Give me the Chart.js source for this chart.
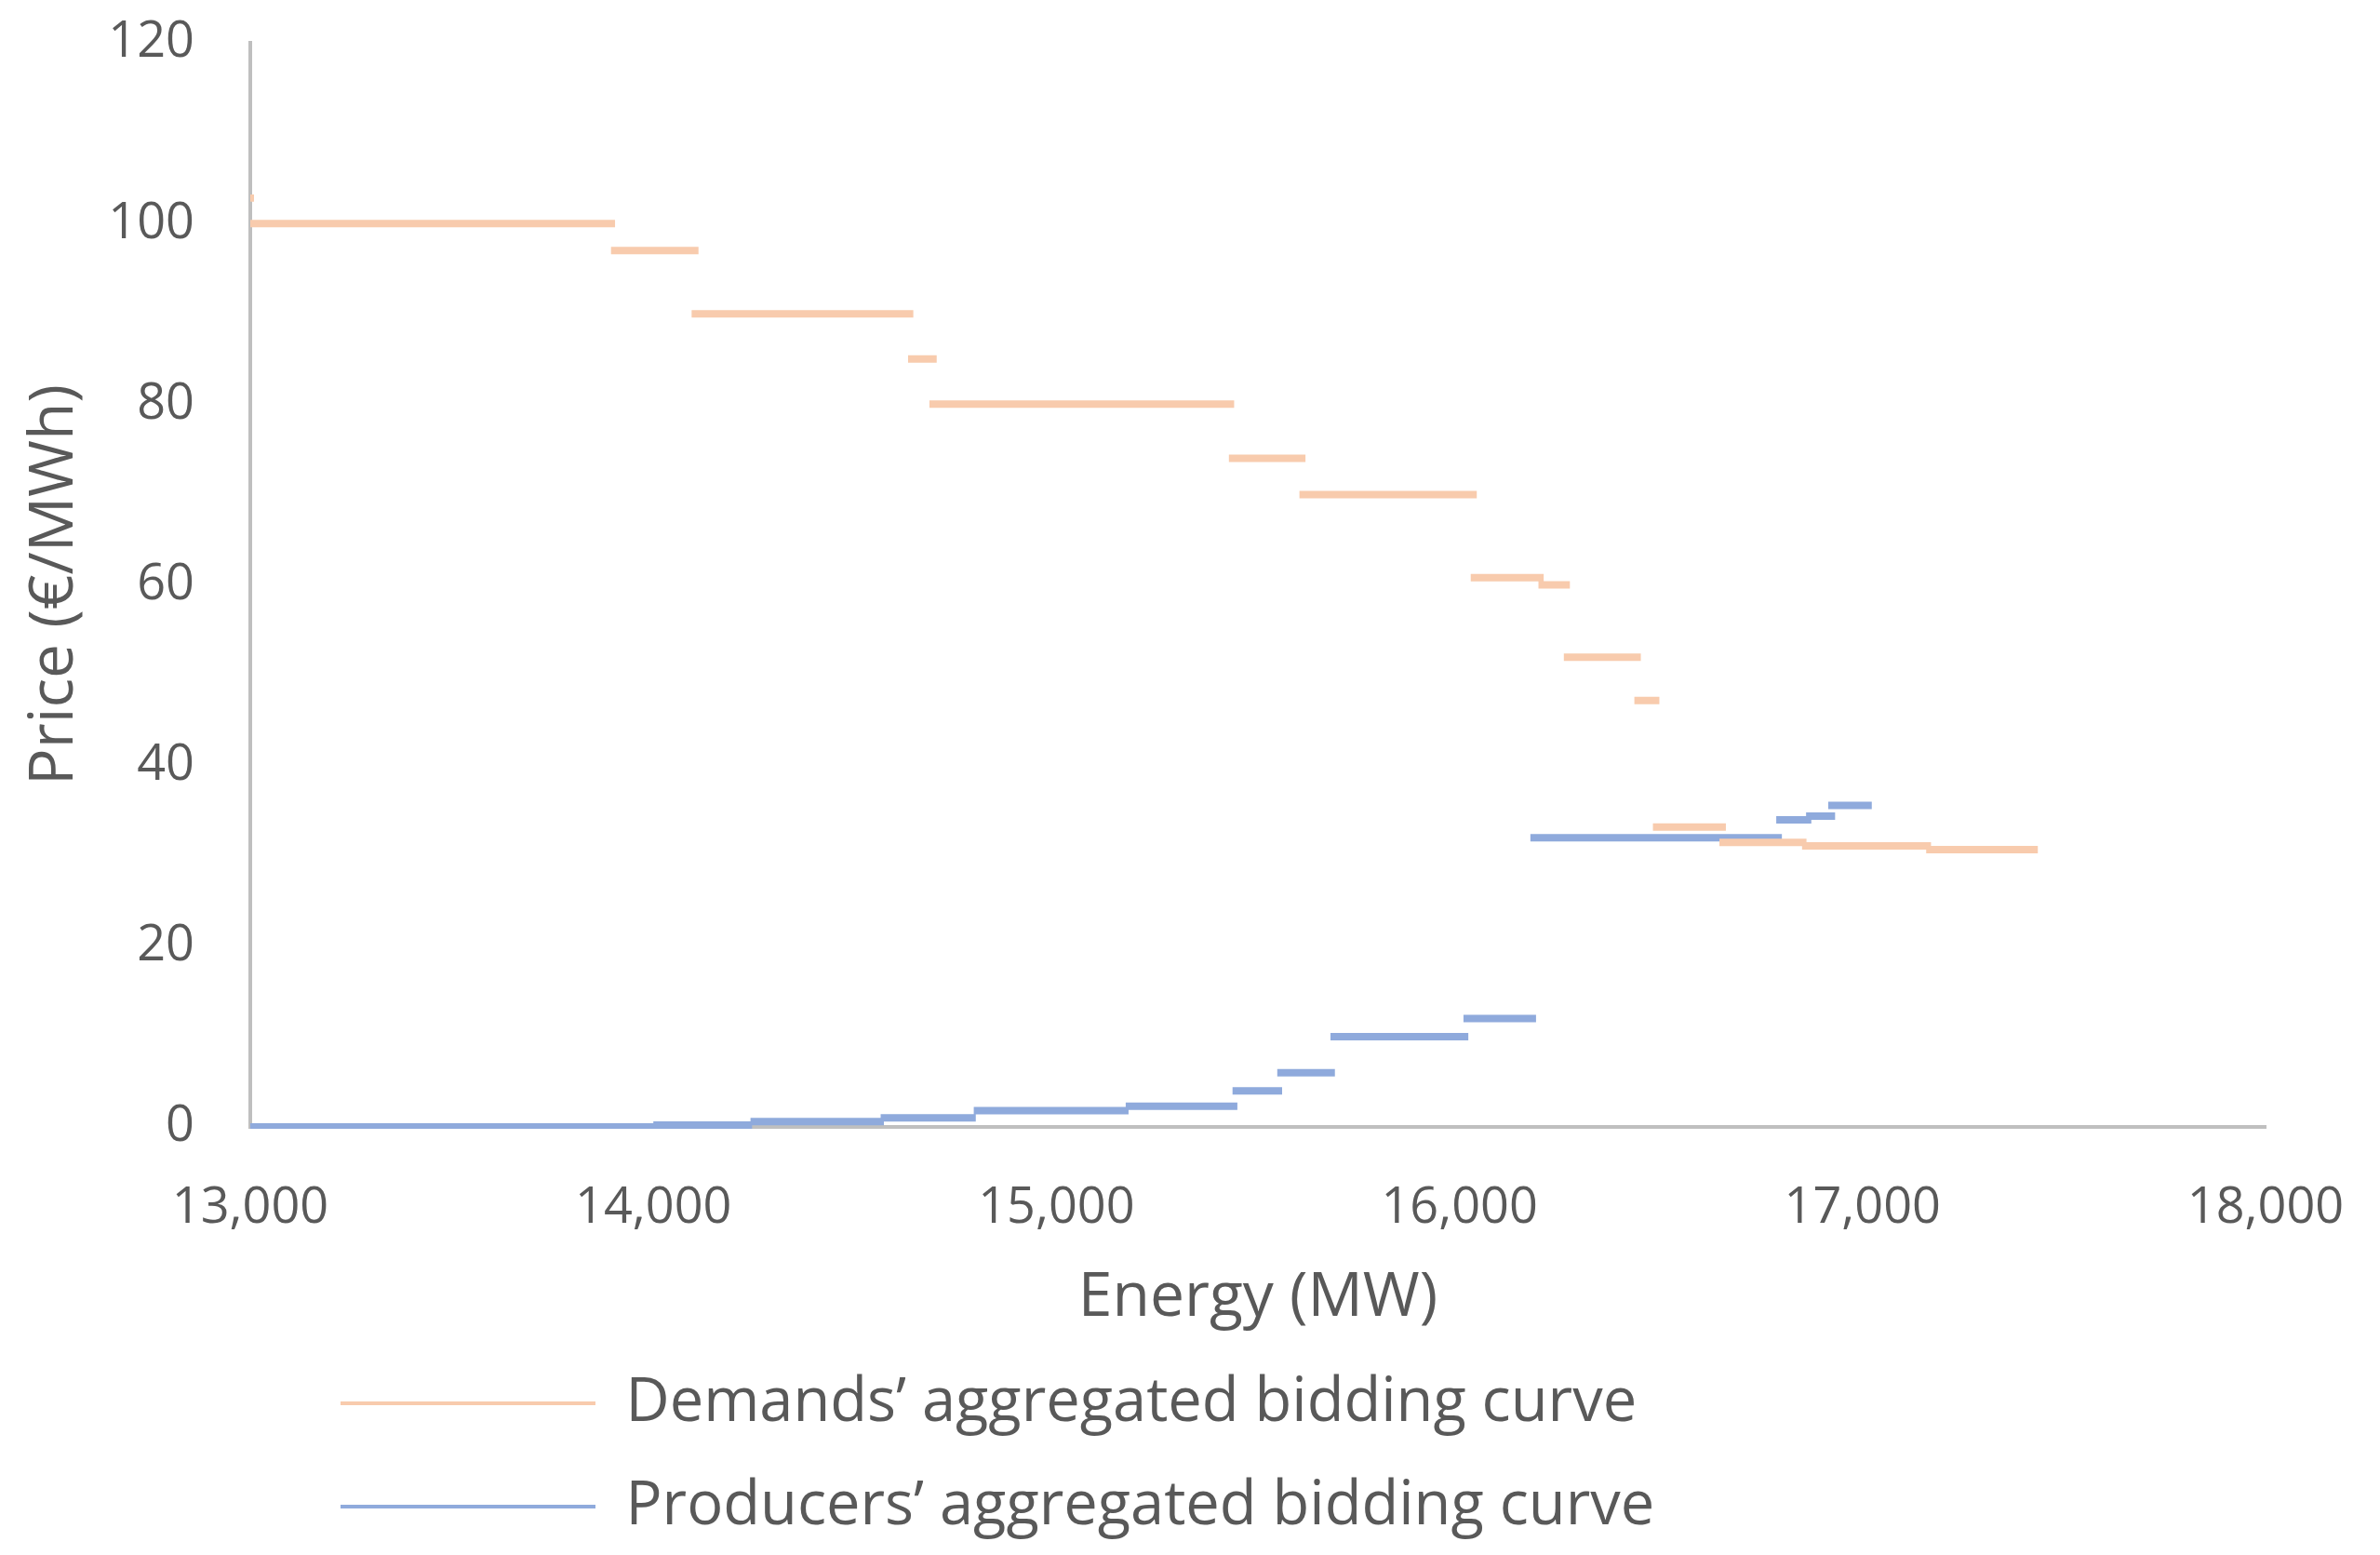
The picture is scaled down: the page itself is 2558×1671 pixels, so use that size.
<!DOCTYPE html>
<html>
<head>
<meta charset="utf-8">
<script src="https://cdn.jsdelivr.net/npm/chart.js@4/dist/chart.umd.min.js"></script>
<style>
  html, body { margin: 0; padding: 0; background: #ffffff; }
  canvas { display: block; }
</style>
</head>
<body>
<canvas id="chart" width="2558" height="1671" style="width:2558px;height:1671px"></canvas>
<script>
// ---- Data ----
const seriesNames = ["Demands\u2019 aggregated bidding curve", "Producers\u2019 aggregated bidding curve"];

// Demand steps: start energy (MW), end energy (MW), price (€/MWh)
const demandStart = [13000, 13895, 14095, 14632, 14685, 15428, 15603, 16028, 16196, 16259, 16434, 16480, 16645, 16850, 17158];
const demandEnd   = [13905, 14112, 14645, 14703, 15441, 15618, 16043, 16209, 16274, 16450, 16496, 16661, 16861, 17170, 17435];
const demandPrice = [100,   97,    90,    85,    80,    74,    70,    60.8,  60,    52,    47.2,  33.2,  31.5,  31.1,  30.7];
// small vertical piece of the demand curve at the left edge
const demandVertX    = [13000];
const demandVertHigh = [103.2];
const demandVertLow  = [102.4];

// Producer steps
const producerStart = [13000, 14000, 14241, 14564, 14795, 15172, 15437, 15548, 15680, 16010, 16176, 16786, 16860, 16915];
const producerEnd   = [14006, 14245, 14572, 14800, 15179, 15449, 15560, 15691, 16022, 16190, 16800, 16873, 16932, 17023];
const producerPrice = [0,     0.2,   0.6,   1.0,   1.8,   2.3,   4,     6,     10,    12,    32,    34,    34.4,  35.6];

// Axes
const xMin = 13000, xMax = 18000, xStep = 1000;
const yMin = 0, yMax = 120, yStep = 20;
const xTitle = "Energy (MW)";
const yTitle = "Price (\u20AC/MWh)";

// ---- Build step series ----
function buildSteps(starts, ends, prices) {
  const pts = [];
  for (let i = 0; i < starts.length; i++) {
    pts.push({ x: starts[i], y: prices[i] });
    pts.push({ x: ends[i], y: prices[i] });
    pts.push({ x: ends[i], y: null });
  }
  return pts;
}
const demandPoints = [];
for (let i = 0; i < demandVertX.length; i++) {
  demandPoints.push({ x: demandVertX[i], y: demandVertHigh[i] });
  demandPoints.push({ x: demandVertX[i], y: demandVertLow[i] });
  demandPoints.push({ x: demandVertX[i], y: null });
}
demandPoints.push(...buildSteps(demandStart, demandEnd, demandPrice));
const producerPoints = buildSteps(producerStart, producerEnd, producerPrice);

const TEXT = '#595959';
const FONT = 'Open Sans';
const PLOT_BOTTOM = 1211;

const legendPlace = {
  id: 'legendPlace',
  afterLayout(chart) {
    const lg = chart.legend;
    if (!lg) return;
    const pad = lg.options.labels.padding;
    const fs = lg.options.labels.font.size;
    const left = 366 - pad;
    const top = 1508 - pad - fs / 2;
    lg.left = left; lg.right = left + lg.width;
    lg.top = top; lg.bottom = top + lg.height;
  }
};

new Chart(document.getElementById('chart'), {
  type: 'scatter',
  data: {
    datasets: [
      {
        label: seriesNames[0],
        data: demandPoints,
        showLine: true,
        borderColor: '#F8CBAD',
        backgroundColor: '#F8CBAD',
        borderWidth: 8,
        pointRadius: 0,
        pointHoverRadius: 0,
        spanGaps: false,
        tension: 0
      },
      {
        label: seriesNames[1],
        data: producerPoints,
        showLine: true,
        borderColor: '#8FAADC',
        backgroundColor: '#8FAADC',
        borderWidth: 8,
        pointRadius: 0,
        pointHoverRadius: 0,
        spanGaps: false,
        tension: 0,
        clip: { left: 4, top: 4, right: 4, bottom: 2 }
      }
    ]
  },
  options: {
    responsive: false,
    devicePixelRatio: 1,
    animation: false,
    layout: { autoPadding: false, padding: { top: 46, right: 123, left: 0, bottom: 0 } },
    plugins: {
      tooltip: { enabled: false },
      legend: {
        position: 'bottom',
        align: 'start',
        labels: {
          font: { family: FONT, size: 65 },
          color: TEXT,
          boxWidth: 274,
          boxHeight: 4,
          padding: 46,
          generateLabels(chart) {
            return chart.data.datasets.map((ds, i) => ({
              text: ds.label,
              fillStyle: ds.borderColor,
              strokeStyle: ds.borderColor,
              lineWidth: 0,
              hidden: false,
              datasetIndex: i,
              fontColor: TEXT
            }));
          }
        }
      }
    },
    scales: {
      x: {
        type: 'linear',
        min: xMin, max: xMax,
        grid: { display: false, drawTicks: false },
        border: { display: true, color: '#BFBFBF', width: 4 },
        ticks: {
          stepSize: xStep,
          padding: 55,
          color: TEXT,
          font: { family: FONT, size: 54 },
          maxRotation: 0,
          callback: v => Number(v).toLocaleString('en-US')
        },
        title: {
          display: true, text: xTitle, color: TEXT,
          font: { family: FONT, size: 66 },
          padding: { top: 0, bottom: 4 }
        },
        afterFit(scale) {
          const lgH = scale.chart.legend ? scale.chart.legend.height : 232;
          scale.height = scale.chart.height - PLOT_BOTTOM - lgH;
          scale.paddingLeft = 0;
          scale.paddingRight = 0;
        }
      },
      y: {
        type: 'linear',
        min: yMin, max: yMax,
        grid: { display: false, drawTicks: false },
        border: { display: true, color: '#BFBFBF', width: 4 },
        ticks: {
          stepSize: yStep,
          padding: 60,
          color: TEXT,
          font: { family: FONT, size: 54 }
        },
        title: {
          display: true, text: yTitle, color: TEXT,
          font: { family: FONT, size: 66 },
          padding: { top: 20, bottom: 0 }
        },
        afterFit(scale) {
          scale.width = 269;
          scale.paddingTop = 0;
          scale.paddingBottom = 0;
        }
      }
    }
  },
  plugins: [legendPlace]
});
</script>
</body>
</html>
